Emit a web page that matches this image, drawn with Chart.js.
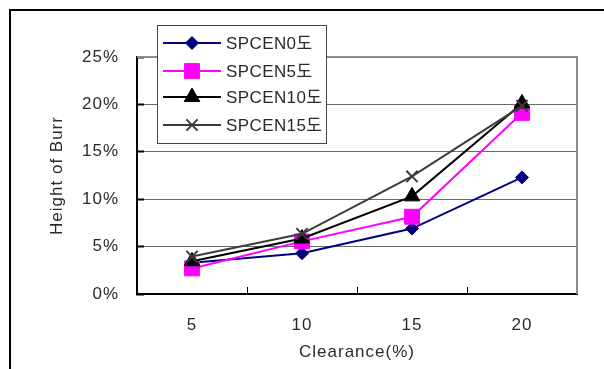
<!DOCTYPE html>
<html>
<head>
<meta charset="utf-8">
<script src="https://cdn.jsdelivr.net/npm/chart.js@4"></script>
<style>
  html, body { margin: 0; padding: 0; background: #fff; }
  canvas { display: block; }
</style>
</head>
<body>
<canvas id="c" width="604" height="369"></canvas>
<script>
// ---- data ----
const CATEGORIES = ['5', '10', '15', '20'];
const SERIES_NAMES = ['SPCEN0도', 'SPCEN5도', 'SPCEN10도', 'SPCEN15도'];
const SPCEN0 = [3.3, 4.3, 6.9, 12.3];
const SPCEN5 = [2.7, 5.55, 8.15, 19.1];
const SPCEN10 = [3.45, 5.85, 10.3, 20.1];
const SPCEN15 = [3.95, 6.35, 12.4, 19.85];
const Y_TICKS = ['0%', '5%', '10%', '15%', '20%', '25%'];
const X_TITLE = 'Clearance(%)';
const Y_TITLE = 'Height of Burr';

const FONT = "'Liberation Sans', 'Noto Sans CJK KR', sans-serif";
const TEXT = '#2a2a2a';
const SPACING = '1px';

const styles = [
  { color: '#000080', pointStyle: 'rectRot', radius: 6.5 },
  { color: '#ff00ff', pointStyle: 'rect', radius: 10.5 },
  { color: '#000000', pointStyle: 'triangle', radius: 9 },
  { color: '#3c3c3c', pointStyle: 'crossRot', radius: 8 }
];
const values = [SPCEN0, SPCEN5, SPCEN10, SPCEN15];

const datasets = values.map((v, i) => ({
  label: SERIES_NAMES[i],
  data: v,
  borderColor: styles[i].color,
  backgroundColor: styles[i].color,
  pointBackgroundColor: styles[i].color,
  pointBorderColor: styles[i].color,
  pointStyle: styles[i].pointStyle,
  pointRadius: styles[i].radius,
  pointHoverRadius: styles[i].radius,
  pointBorderWidth: i === 3 ? 2 : 1,
  borderWidth: 2,
  tension: 0,
  fill: false,
  order: 3 - i
}));

const spacingPlugin = {
  id: 'spacing',
  beforeUpdate(chart) { chart.ctx.letterSpacing = SPACING; },
  beforeLayout(chart) { chart.ctx.letterSpacing = SPACING; },
  beforeDraw(chart) {
    const ctx = chart.ctx;
    ctx.letterSpacing = SPACING;
    // outer frame
    ctx.save();
    ctx.strokeStyle = '#000';
    ctx.lineWidth = 2;
    ctx.beginPath();
    ctx.moveTo(10, 400);
    ctx.lineTo(10, 10);
    ctx.lineTo(700, 10);
    ctx.stroke();
    ctx.restore();
  },
  beforeDatasetsDraw(chart) {
    // gray top / right plot border
    const a = chart.chartArea, ctx = chart.ctx;
    ctx.save();
    ctx.strokeStyle = '#8c8c8c';
    ctx.lineWidth = 2;
    ctx.beginPath();
    ctx.moveTo(a.left, a.top);
    ctx.lineTo(a.right, a.top);
    ctx.lineTo(a.right, a.bottom);
    ctx.stroke();
    ctx.restore();
  },
  afterDraw(chart) {
    // legend box with line + marker samples
    const ctx = chart.ctx;
    const box = { x: 157, y: 25, w: 169, h: 118 };
    ctx.save();
    ctx.fillStyle = '#fff';
    ctx.fillRect(box.x, box.y, box.w, box.h);
    ctx.strokeStyle = '#444';
    ctx.lineWidth = 1;
    ctx.strokeRect(box.x + 0.5, box.y + 0.5, box.w, box.h);
    const rowsY = [43, 71, 97, 125];
    chart.data.datasets.forEach((ds, i) => {
      const y = rowsY[i];
      ctx.strokeStyle = ds.borderColor;
      ctx.lineWidth = 2;
      ctx.beginPath();
      ctx.moveTo(163, y);
      ctx.lineTo(221, y);
      ctx.stroke();
      ctx.fillStyle = ds.pointBackgroundColor;
      ctx.strokeStyle = ds.pointBorderColor;
      ctx.lineWidth = ds.pointBorderWidth;
      Chart.helpers.drawPoint(ctx, {
        pointStyle: ds.pointStyle,
        radius: ds.pointRadius,
        rotation: 0,
        borderWidth: ds.pointBorderWidth
      }, 192, y);
      ctx.fillStyle = TEXT;
      ctx.letterSpacing = '0.4px';
      ctx.font = '17px ' + FONT;
      ctx.textAlign = 'left';
      ctx.textBaseline = 'middle';
      ctx.fillText(ds.label, 226, y + 1);
    });
    ctx.restore();
  }
};

new Chart(document.getElementById('c'), {
  type: 'line',
  data: { labels: CATEGORIES, datasets },
  options: {
    responsive: false,
    animation: false,
    devicePixelRatio: 1,
    layout: { padding: { left: 0, top: 57, right: 27, bottom: 0 } },
    plugins: { legend: { display: false }, tooltip: { enabled: false } },
    scales: {
      x: {
        type: 'category',
        offset: true,
        afterFit(s) { s.height = 75; },
        grid: {
          offset: true,
          drawOnChartArea: false,
          drawTicks: true,
          tickLength: -7,
          tickColor: '#000',
          tickWidth: 1
        },
        border: { display: true, color: '#000', width: 2 },
        ticks: { color: TEXT, font: { family: FONT, size: 17 }, padding: 28, maxRotation: 0 },
        title: {
          display: true, text: X_TITLE, color: TEXT,
          font: { family: FONT, size: 17 }, padding: { top: 0, bottom: 6 }
        }
      },
      y: {
        min: 0, max: 25,
        afterFit(s) { s.width = 137; },
        afterBuildTicks(s) { s.ticks = Y_TICKS.map((t, i) => ({ value: i * 5 })); },
        grid: {
          color: '#6a6a6a',
          lineWidth: 1,
          drawTicks: true,
          tickLength: -7,
          tickColor: '#000',
          tickWidth: 2
        },
        border: { display: true, color: '#000', width: 2 },
        ticks: {
          color: TEXT, font: { family: FONT, size: 17 }, padding: 25,
          callback: (v, i) => Y_TICKS[i]
        },
        title: {
          display: true, text: Y_TITLE, color: TEXT,
          font: { family: FONT, size: 17 }, padding: { top: 47, bottom: 0 }
        }
      }
    }
  },
  plugins: [spacingPlugin]
});
</script>
</body>
</html>
